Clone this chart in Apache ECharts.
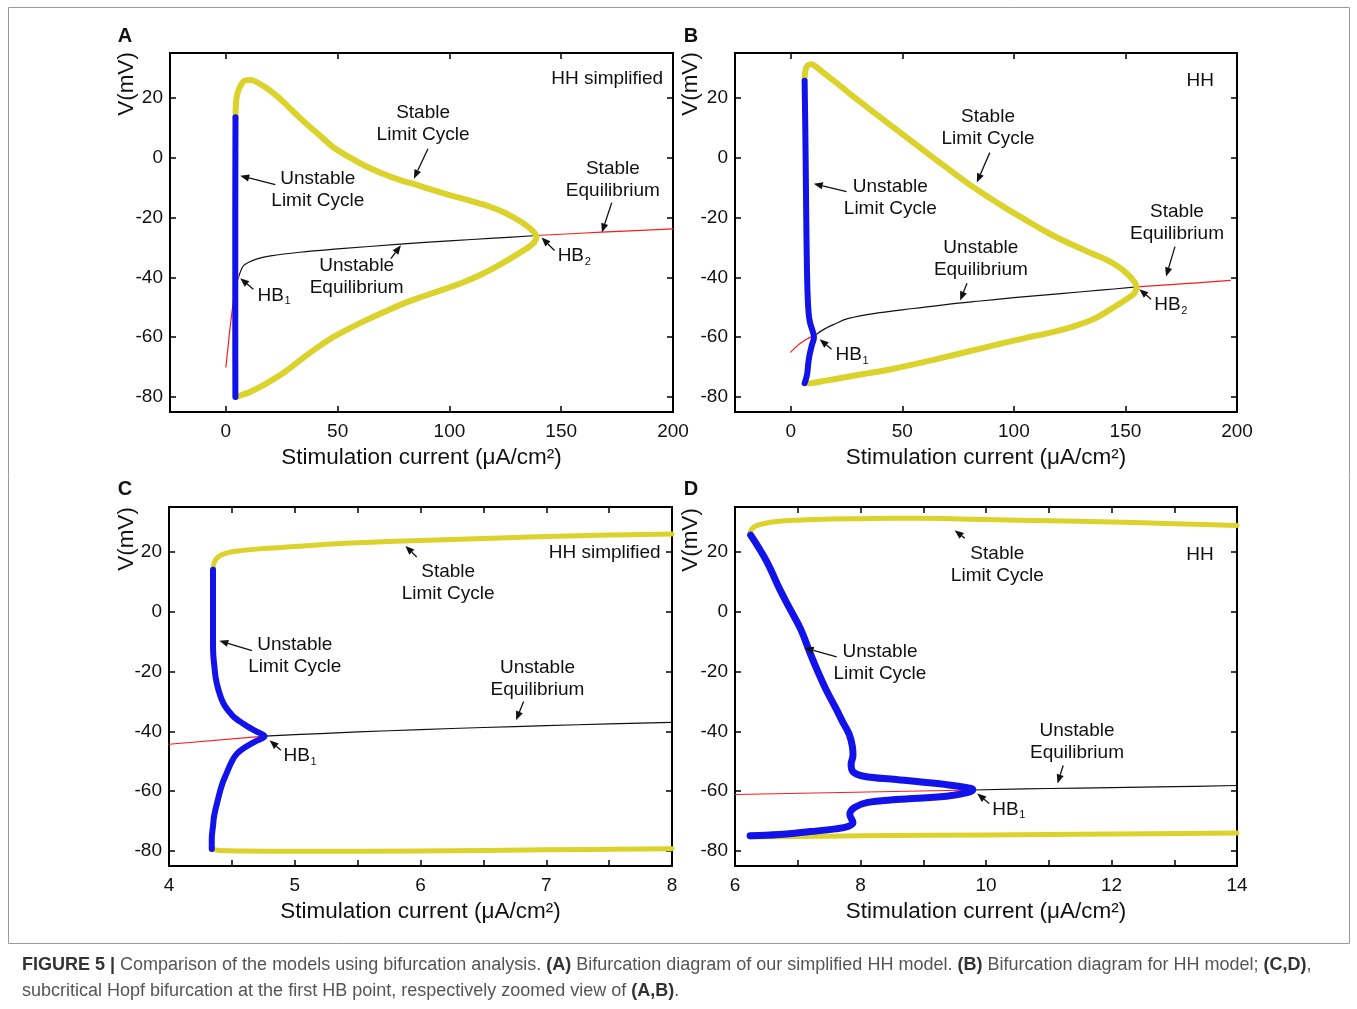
<!DOCTYPE html>
<html><head><meta charset="utf-8">
<script src="https://cdn.jsdelivr.net/npm/echarts@6/dist/echarts.min.js"></script>
<style>html,body{margin:0;padding:0;background:#fff}#chart{width:1357px;height:1009px}</style>
</head><body><div id="chart"></div>
<script>
const FONT = '"Liberation Sans", Arial, Helvetica, sans-serif';

// ---------- axis ticks ----------
const xTicksAB = [0, 50, 100, 150, 200];
const xTicksC = [4, 4.5, 5, 5.5, 6, 6.5, 7, 7.5, 8];
const xLabelsC = [4, 5, 6, 7, 8];
const xTicksD = [6, 7, 8, 9, 10, 11, 12, 13, 14];
const xLabelsD = [6, 8, 10, 12, 14];
const yTicks = [-80, -60, -40, -20, 0, 20];

// ---------- (A) simplified HH: [I (uA/cm2), V (mV)] ----------
const aStableCycle = [[4.3,13],[4.4,17],[5,21],[6.5,24],[8.5,25.8],[11,26],[14,25.2],[18,23.4],[23,20.5],[28,17],[33,13.4],[38,10],[43,6.8],[48,3.5],[55,0.3],[62,-2.6],[70,-5.3],[78,-7.5],[85,-9],[92,-10.7],[100,-12.5],[107,-13.9],[114,-15.4],[120,-16.9],[125,-18.5],[129,-20.1],[133,-21.9],[136,-23.6],[138,-25.1],[138.9,-26.5],
  [138,-28.2],[136,-29.6],[132,-31.5],[127,-33.8],[120,-36.8],[114,-39.1],[106,-41.7],[99,-43.6],[92,-45.4],[85,-47.2],[78,-49.2],[71,-51.5],[63,-54.2],[56,-56.8],[48,-60],[41,-63.4],[33,-67.8],[26,-71.8],[18,-75.5],[11,-78.2],[6.5,-79.5],[4.5,-80]];
const aUnstableCycle = [[4.3,13.5],[4.25,0],[4.2,-20],[4.2,-40],[4.2,-60],[4.25,-80]];
const aStableEqLow = [[0,-70],[1,-63],[2,-56],[3,-50],[4,-45],[5,-41.5],[6,-39.2]];
const aUnstableEq = [[6,-39.2],[7,-37.2],[8,-36],[10,-35],[14,-33.8],[20,-32.8],[33,-31.6],[50,-30.5],[78,-28.9],[100,-27.8],[120,-26.9],[139,-26]];
const aStableEqHigh = [[139,-26],[168,-24.9],[200,-23.8]];

// ---------- (B) HH ----------
const bStableCycle = [[6.2,26],[6.5,29],[7.4,30.7],[9,31.2],[11,30.6],[14,28.8],[20,25.3],[25,22.3],[30,19.3],[40,13.6],[50,7.9],[60,2.2],[70,-3.4],[80,-8.9],[88,-12.9],[96,-16.7],[105,-20.7],[115,-25],[125,-28.7],[135,-32],[142,-34.3],[147,-36.5],[151,-39],[153.5,-41],[155,-43.2],
  [154,-45.3],[152,-46.5],[148,-48.5],[142,-51.3],[135,-54.2],[125,-56.8],[115,-58.7],[105,-60.3],[95,-62],[85,-63.8],[75,-65.6],[65,-67.4],[55,-69.1],[45,-70.7],[35,-72],[25,-73.3],[15,-74.6],[8.2,-75.5]];
const bUnstableCycle = [[6.2,25.7],[6.5,10],[6.8,-10],[7.1,-30],[7.5,-45],[8,-52],[8.6,-55],[10,-58.5],[10.4,-60],[9.5,-62.5],[8.4,-66],[7.8,-69],[7.4,-72],[6.8,-74],[6.2,-75.4]];
const bStableEqLow = [[0,-65],[2,-63.5],[4,-62.2],[6,-61.2],[8,-60.3],[11,-59.3]];
const bUnstableEq = [[11,-59.3],[15,-57.3],[20,-55.5],[25.5,-53.8],[40,-51.8],[55,-50.4],[75,-48.6],[85,-47.9],[100,-46.8],[121,-45.4],[140,-44.2],[155,-43.2]];
const bStableEqHigh = [[155,-43.2],[175,-42.2],[197,-41]];

// ---------- (C) simplified HH, near HB1 ----------
const cStableCycleUpper = [[4.35,14],[4.36,16.5],[4.39,18.3],[4.45,19.5],[4.55,20.3],[4.75,21.1],[5,21.8],[5.3,22.6],[5.6,23.2],[6,23.8],[6.5,24.5],[7,25.1],[7.5,25.6],[8,26]];
const cStableCycleLower = [[4.34,-79.3],[4.4,-79.8],[4.6,-80],[5,-80.1],[6,-80],[7,-79.6],[8,-79.2]];
const cUnstableCycle = [[4.35,14],[4.35,0],[4.35,-12],[4.36,-18],[4.38,-24],[4.43,-30.4],[4.5,-34.5],[4.56,-36.6],[4.63,-38.5],[4.69,-39.9],[4.76,-41.6],[4.68,-43.5],[4.6,-45.5],[4.54,-47.5],[4.5,-50],[4.46,-53.8],[4.42,-58],[4.39,-62.7],[4.36,-68],[4.35,-71.6],[4.34,-76],[4.34,-79.3]];
const cStableEq = [[4,-44.3],[4.76,-41.6]];
const cUnstableEq = [[4.76,-41.6],[5,-41.1],[5.5,-40.2],[6,-39.4],[6.5,-38.7],[7,-38.1],[7.5,-37.5],[8,-37]];

// ---------- (D) HH, near HB1 ----------
const dStableCycleUpper = [[6.24,26.5],[6.3,28.3],[6.45,29.4],[6.7,30.2],[7,30.6],[7.5,31],[8,31.1],[8.5,31.2],[9,31.2],[10,30.8],[11,30.4],[12,30],[13,29.4],[14,28.8]];
const dStableCycleLower = [[6.24,-75.3],[8,-74.9],[10,-74.6],[12,-74.3],[14,-74]];
const dUnstableCycle = [[6.25,25.6],[6.5,17],[6.72,7.2],[6.9,0],[7.05,-6],[7.2,-14],[7.32,-20],[7.45,-26],[7.6,-32],[7.72,-37],[7.82,-41],[7.87,-45],[7.88,-48],[7.85,-51],[7.88,-53.5],[8.05,-55],[8.57,-56.1],[9.37,-57.8],[9.7,-58.8],[9.79,-59.5],[9.7,-60.5],[9.37,-61.7],[8.57,-62.8],[8.1,-63.8],[7.9,-65.5],[7.83,-67.8],[7.88,-70.5],[7.8,-71.8],[7.6,-72.6],[7.2,-73.5],[6.7,-74.5],[6.24,-74.9]];
const dStableEq = [[6,-61.1],[9.8,-59.6]];
const dUnstableEq = [[9.8,-59.6],[11,-59.1],[12,-58.8],[13,-58.5],[14,-58.1]];

// ---------- annotations (anchor points in data units) ----------
const notesA = [
  {text:'HH simplified', at:[195.6,26.3], align:'right'},
  {text:'Stable\nLimit Cycle', at:[88.2,11.2], from:[90.4,3], to:[84.1,-7]},
  {text:'Stable\nEquilibrium', at:[173.1,-7.5], from:[172.6,-15], to:[168.2,-25]},
  {text:'Unstable\nLimit Cycle', at:[41.1,-10.7], from:[22.1,-9], to:[6.4,-6]},
  {text:'Unstable\nEquilibrium', at:[58.5,-39.7], from:[73.8,-33.7], to:[78.3,-29.3]},
  {text:'HB', sub:'1', at:[14.1,-46], align:'left', from:[12.3,-44], to:[6.4,-40.3]},
  {text:'HB', sub:'2', at:[148.4,-32.7], align:'left', from:[147,-31], to:[141.2,-26.7]}
];
const notesB = [
  {text:'HH', at:[189.7,25.7], align:'right'},
  {text:'Stable\nLimit Cycle', at:[88.4,10], from:[89.2,1.7], to:[83.4,-8.3]},
  {text:'Stable\nEquilibrium', at:[173.1,-21.7], from:[172.2,-29.7], to:[168.2,-39.7]},
  {text:'Unstable\nLimit Cycle', at:[44.6,-13.3], from:[25,-11.3], to:[10.3,-8.7]},
  {text:'Unstable\nEquilibrium', at:[85.2,-33.7], from:[79,-42], to:[75.9,-47.7]},
  {text:'HB', sub:'1', at:[20.1,-66], align:'left', from:[18.3,-64], to:[12.9,-60.7]},
  {text:'HB', sub:'2', at:[162.9,-49.3], align:'left', from:[161.5,-47.3], to:[156.2,-44]}
];
const notesC = [
  {text:'HH simplified', at:[7.91,19.7], align:'right'},
  {text:'Stable\nLimit Cycle', at:[6.22,9.7], from:[5.97,18.3], to:[5.88,22]},
  {text:'Unstable\nLimit Cycle', at:[5.0,-14.7], from:[4.66,-13], to:[4.40,-9.7]},
  {text:'Unstable\nEquilibrium', at:[6.93,-22.3], from:[6.82,-30], to:[6.76,-36.3]},
  {text:'HB', sub:'1', at:[4.91,-48.3], align:'left', from:[4.89,-46.3], to:[4.80,-43]}
];
const notesD = [
  {text:'HH', at:[13.63,18.9], align:'right'},
  {text:'Stable\nLimit Cycle', at:[10.18,15.6], from:[9.66,24.6], to:[9.5,27.2]},
  {text:'Unstable\nLimit Cycle', at:[8.31,-17.1], from:[7.62,-15.1], to:[7.11,-12.1]},
  {text:'Unstable\nEquilibrium', at:[11.45,-43.4], from:[11.23,-51.4], to:[11.14,-57.4]},
  {text:'HB', sub:'1', at:[10.1,-66.1], align:'left', from:[10.05,-64.1], to:[9.86,-60.8]}
];

// ---------- styling ----------
const YELLOW = '#dbd22b';
const BLUE = '#1212ea';
const RED = '#ff1a1a';
const BLACK = '#111111';
const X_NAME = 'Stimulation current (\u03bcA/cm\u00b2)';

const grids = [
  {left:170, top:53, width:503, height:359},
  {left:735, top:53, width:502, height:359},
  {left:169, top:507, width:503, height:359},
  {left:735, top:507, width:502, height:359}
];

const xAxis = [], yAxis = [];
function addAxes(k, xMin, xMax, xTicks, xLabels) {
  const lineStyle = {color:'#000', width:2};
  const tick = {inside:true, length:6, lineStyle:{color:'#000', width:1.5}};
  xAxis.push({gridIndex:k, type:'value', min:xMin, max:xMax, position:'bottom',
    axisLine:{onZero:false, lineStyle},
    axisTick:Object.assign({customValues:xTicks}, tick),
    axisLabel:{customValues:xLabels, fontSize:19, color:'#111', fontFamily:FONT, margin:10},
    splitLine:{show:false},
    name:X_NAME, nameLocation:'middle', nameGap:34,
    nameTextStyle:{fontSize:22.5, color:'#111', fontFamily:FONT}});
  xAxis.push({gridIndex:k, type:'value', min:xMin, max:xMax, position:'top',
    axisLine:{onZero:false, lineStyle},
    axisTick:Object.assign({customValues:xTicks}, tick),
    axisLabel:{show:false}, splitLine:{show:false}});
  yAxis.push({gridIndex:k, type:'value', min:-85, max:35, position:'left',
    axisLine:{onZero:false, lineStyle},
    axisTick:Object.assign({customValues:yTicks}, tick),
    axisLabel:{customValues:yTicks, fontSize:19, color:'#111', fontFamily:FONT, margin:7},
    splitLine:{show:false}});
  yAxis.push({gridIndex:k, type:'value', min:-85, max:35, position:'right',
    axisLine:{onZero:false, lineStyle},
    axisTick:Object.assign({customValues:yTicks}, tick),
    axisLabel:{show:false}, splitLine:{show:false}});
}
addAxes(0, -25, 200, xTicksAB, xTicksAB);
addAxes(1, -25, 200, xTicksAB, xTicksAB);
addAxes(2, 4, 8, xTicksC, xLabelsC);
addAxes(3, 6, 14, xTicksD, xLabelsD);

const series = [];
function curve(k, data, color, width, z, smooth) {
  series.push({type:'line', xAxisIndex:2*k, yAxisIndex:2*k, data, showSymbol:false, symbol:'none',
    smooth: smooth === undefined ? 0.4 : smooth, z, silent:true, animation:false,
    lineStyle:{color, width, cap:'round', join:'round'}});
}

curve(0, aStableEqLow, RED, 1.2, 2);
curve(0, aUnstableEq, BLACK, 1.2, 2);
curve(0, aStableEqHigh, RED, 1.2, 2);
curve(0, aStableCycle, YELLOW, 6, 3);
curve(0, aUnstableCycle, BLUE, 6, 4);

curve(1, bStableEqLow, RED, 1.2, 2);
curve(1, bUnstableEq, BLACK, 1.2, 2);
curve(1, bStableEqHigh, RED, 1.2, 2);
curve(1, bStableCycle, YELLOW, 6, 3);
curve(1, bUnstableCycle, BLUE, 6, 4);

curve(2, cStableEq, RED, 1.2, 2, false);
curve(2, cUnstableEq, BLACK, 1.2, 2);
curve(2, cStableCycleUpper, YELLOW, 5, 3);
curve(2, cStableCycleLower, YELLOW, 5, 3);
curve(2, cUnstableCycle, BLUE, 6, 4);

curve(3, dStableEq, RED, 1.2, 2, false);
curve(3, dUnstableEq, BLACK, 1.2, 2);
curve(3, dStableCycleUpper, YELLOW, 5, 3);
curve(3, dStableCycleLower, YELLOW, 5, 3);
curve(3, dUnstableCycle, BLUE, 7, 4);

// text labels with arrows, drawn in data coordinates
function notes(k, list) {
  series.push({
    type:'custom', xAxisIndex:2*k, yAxisIndex:2*k, coordinateSystem:'cartesian2d',
    clip:false, z:20, silent:true, animation:false,
    data: list.map(n => n.at.concat(n.from || n.at, n.to || n.at)),
    renderItem(params, api) {
      const n = list[params.dataIndex];
      const kids = [];
      const p = api.coord(n.at);
      kids.push({type:'text', style:{text:n.text, x:p[0], y:p[1], fill:'#111',
        fontSize:19, fontFamily:FONT, align:n.align || 'center', verticalAlign:'middle', lineHeight:22}});
      if (n.sub) {
        kids.push({type:'text', style:{text:n.sub, x:p[0] + 27, y:p[1] + 6, fill:'#111',
          fontSize:11, fontFamily:FONT, align:'left', verticalAlign:'middle'}});
      }
      if (n.from) {
        const a = api.coord(n.from), b = api.coord(n.to);
        const dx = b[0] - a[0], dy = b[1] - a[1], L = Math.hypot(dx, dy);
        const ux = dx / L, uy = dy / L, hl = 9, hw = 3.6;
        const bx = b[0] - ux * hl, by = b[1] - uy * hl;
        kids.push({type:'line', shape:{x1:a[0], y1:a[1], x2:bx, y2:by}, style:{stroke:'#111', lineWidth:1.3}});
        kids.push({type:'polygon', shape:{points:[[b[0], b[1]], [bx - uy * hw, by + ux * hw], [bx + uy * hw, by - ux * hw]]},
          style:{fill:'#111'}});
      }
      return {type:'group', children:kids};
    }
  });
}
notes(0, notesA);
notes(1, notesB);
notes(2, notesC);
notes(3, notesD);

// panel letters, y-axis titles, caption, frame
const graphic = [];
[['A',125,36],['B',691,36],['C',125,489],['D',691,489]].forEach(([t,x,y]) => {
  graphic.push({type:'text', x, y, style:{text:t, fontSize:20, fontWeight:'bold', fontFamily:FONT, fill:'#111', align:'center', verticalAlign:'middle'}});
});
[[127,84],[691,84],[127,539],[691,540]].forEach(([x,y]) => {
  graphic.push({type:'text', x, y, rotation:Math.PI/2, style:{text:'V(mV)', fontSize:22.5, fontFamily:FONT, fill:'#111', align:'center', verticalAlign:'middle'}});
});
graphic.push({type:'rect', shape:{x:8.5, y:7.5, width:1341, height:936}, style:{fill:'none', stroke:'#9a9a9a', lineWidth:1}, silent:true});
graphic.push({type:'text', x:22, y:952, style:{
  text:'{b|FIGURE 5 |} Comparison of the models using bifurcation analysis. {b|(A)} Bifurcation diagram of our simplified HH model. {b|(B)} Bifurcation diagram for HH model; {b|(C,D)},\nsubcritical Hopf bifurcation at the first HB point, respectively zoomed view of {b|(A,B)}.',
  fontSize:18, fontFamily:FONT, fill:'#555', lineHeight:26, verticalAlign:'top',
  rich:{b:{fontSize:18, fontFamily:FONT, fontWeight:'bold', fill:'#333', lineHeight:26}}
}});

const chart = echarts.init(document.getElementById('chart'), null, {renderer:'canvas'});
chart.setOption({
  animation:false,
  backgroundColor:'#fff',
  grid: grids.map(g => Object.assign({show:true, borderColor:'#000', borderWidth:2, backgroundColor:'transparent'}, g)),
  xAxis, yAxis, series, graphic
});
</script></body></html>
